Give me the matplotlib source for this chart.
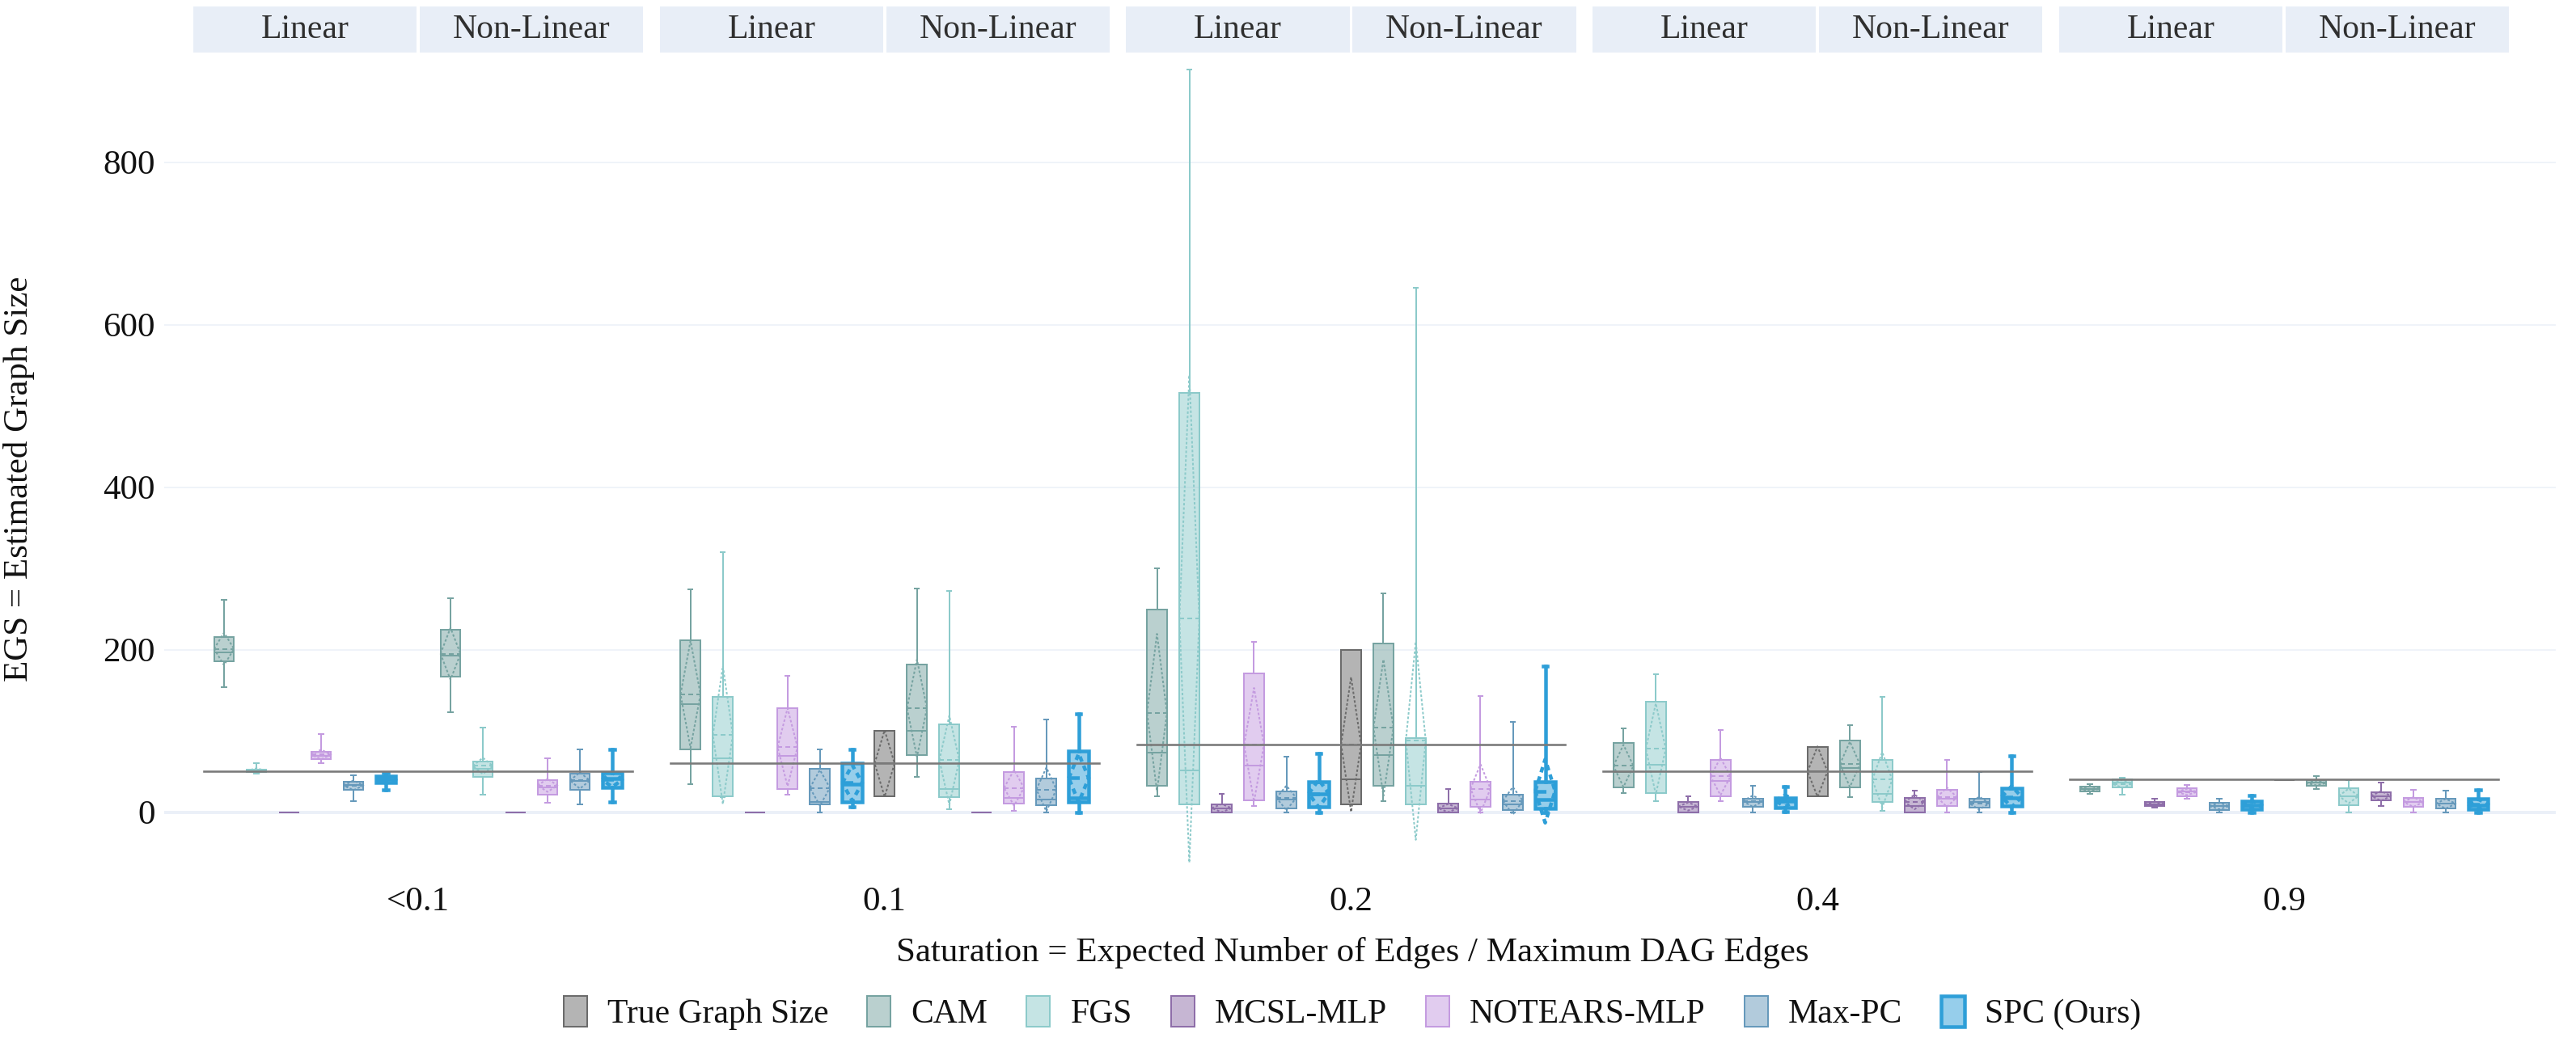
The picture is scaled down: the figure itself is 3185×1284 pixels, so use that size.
import matplotlib
matplotlib.use('Agg')
import matplotlib.pyplot as plt
from matplotlib.patches import Rectangle, Patch
from matplotlib.transforms import blended_transform_factory
from matplotlib.colors import to_rgba

plt.rcParams['font.family'] = ['Liberation Serif', 'DejaVu Serif']

# ---------------- data ----------------
SATURATION = ['<0.1', '0.1', '0.2', '0.4', '0.9']
LINEARITY = ['Linear', 'Non-Linear']
METHODS = ['True Graph Size', 'CAM', 'FGS', 'MCSL-MLP', 'NOTEARS-MLP', 'Max-PC', 'SPC (Ours)']
LINE_COLORS = ['#6b6b6b', '#76a3a1', '#8ccaca', '#8e6ea9', '#c49be0', '#6699bb', '#2e9fd8']
LINE_WIDTHS = [2, 2, 2, 2, 2, 2, 4.5]   # pixels

TRUE_MEAN = [50, 60, 83.3, 50, 40]

# each entry: [low whisker, q1, median, q3, high whisker, mean, sd]; None = no box
TRUE_LIN = [None, None, None, None, None]
TRUE_NL = [None,
           [20, 20, 60, 100, 100, 60, 41],
           [10, 10, 40, 200, 200, 83.3, 83],
           [20, 20, 50, 80, 80, 50, 31],
           [39.5, 39.5, 39.5, 39.5, 39.5, 39.5, 0]]

CAM_LIN = [[154, 186, 197, 216, 261, 201, 20],
           [35, 77, 133, 212, 274, 145, 66],
           [19.5, 32.6, 73.6, 249.5, 300, 122.5, 97],
           [23.5, 31, 49.6, 85, 103, 57, 26],
           [22.5, 26, 29, 32, 35, 29, 3]]
CAM_NL = [[123, 167, 193, 225, 263, 195, 32],
          [43, 70, 100, 182, 275, 128, 60],
          [14, 32.6, 70, 208, 269, 104, 84],
          [18.5, 31, 54, 88, 107.5, 59, 28],
          [28.5, 32.4, 36, 39, 44, 36, 3]]

FGS_LIN = [[47, 49, 50, 52, 60, 51, 3],
           [19, 20, 66, 142, 320, 95, 85],
           [10, 10, 51, 516, 914, 238, 300],
           [13.6, 24, 58, 136, 170, 78, 56],
           [22, 31, 36, 40, 42, 35, 5]]
FGS_NL = [[22, 43, 53, 62, 104, 57, 10],
          [4, 18.5, 29, 108, 272, 64, 55],
          [10, 10, 32.6, 91, 645, 88, 122],
          [1.6, 13, 22.5, 64, 142, 40, 34],
          [0, 9, 20, 30, 39, 20, 9]]

MCSL_LIN = [[0, 0, 0, 0, 0, 0, 0],
            [0, 0, 0, 0, 0, 0, 0],
            [0, 0, 5, 10, 23, 5, 5],
            [0, 0, 6.6, 13, 20, 7, 5],
            [6, 7.6, 10, 12.6, 17, 10, 2.5]]
MCSL_NL = [[0, 0, 0, 0, 0, 0, 0],
           [0, 0, 0, 0, 0, 0, 0],
           [0, 0, 5, 11, 29, 5, 5],
           [0, 0, 8, 18, 27, 12.6, 9],
           [8, 15, 20, 25, 36, 20, 6]]

NOTEARS_LIN = [[60, 65, 69, 74, 96, 71, 6],
               [22, 29, 69, 128, 168, 80, 48],
               [8, 15, 57, 171, 210, 83, 70],
               [13.6, 20, 38, 64.5, 101, 44, 23],
               [17, 20, 26, 29.5, 34, 25, 4]]
NOTEARS_NL = [[12, 22, 31, 39, 66, 33, 8],
              [2, 11, 17.5, 49, 105, 30, 22],
              [0, 6.5, 16, 37, 143, 29, 30],
              [0, 7.6, 16.5, 28, 64, 18.5, 12],
              [0, 7, 12.6, 17.5, 28, 12.6, 6]]

MAXPC_LIN = [[14, 28, 34, 37.5, 45, 33, 6],
             [0, 10, 13, 53, 77, 30, 22],
             [0, 5, 16, 26, 68, 17.6, 15],
             [0, 7, 12.6, 16.5, 33, 13.6, 7],
             [0, 2.6, 8, 12, 17, 7.6, 4]]
MAXPC_NL = [[10, 28, 38, 47, 77, 39, 10],
            [0, 9, 16, 41, 114, 28, 27],
            [0, 3, 10, 21.5, 111, 14, 17],
            [0, 5.6, 12.6, 17, 49, 11, 8],
            [0, 4.3, 11, 16.5, 27, 10.5, 6]]

SPC_LIN = [[28, 36, 40, 44, 48, 40, 4],
           [7, 13, 35, 60, 77, 36, 22],
           [0, 6.5, 23, 37, 72, 23, 17],
           [1, 6, 14, 18, 32, 14, 7],
           [0, 3.6, 8.6, 14, 20.5, 9, 5]]
SPC_NL = [[13, 31, 41, 48, 77, 40, 9],
          [0, 12.6, 17.5, 75, 121, 42, 30],
          [0, 5, 16, 37, 180, 26, 39],
          [0, 7.6, 18, 30, 69, 19, 13],
          [0, 3.6, 9, 16.5, 27.5, 10, 6]]

STATS = [[TRUE_LIN, TRUE_NL], [CAM_LIN, CAM_NL], [FGS_LIN, FGS_NL], [MCSL_LIN, MCSL_NL],
         [NOTEARS_LIN, NOTEARS_NL], [MAXPC_LIN, MAXPC_NL], [SPC_LIN, SPC_NL]]

# ---------------- layout ----------------
W, H = 3185, 1284
DPI = 100
PX = 72.0 / DPI          # points per pixel
AX_L, AX_R, AX_T, AX_B = 203, 3160, 65, 1070
GROUP0_PX, CAT_PX, GROUP_PITCH_PX = 517, 280, 576.75
P = GROUP_PITCH_PX / CAT_PX
BOX_W = 0.088
FS = 31
TXT = '#111111'
GRID = '#ebf0f8'

fig = plt.figure(figsize=(W / DPI, H / DPI), dpi=DPI)
ax = fig.add_axes([AX_L / W, 1 - AX_B / H, (AX_R - AX_L) / W, (AX_B - AX_T) / H])
ax.set_xlim((AX_L - GROUP0_PX) / CAT_PX, (AX_R - GROUP0_PX) / CAT_PX)
ax.set_ylim(-65, 935)
for s in ax.spines.values():
    s.set_visible(False)
ax.set_yticks([0, 200, 400, 600, 800])
ax.yaxis.grid(True, color=GRID, lw=1.5 * PX)
ax.axhline(0, color=GRID, lw=4 * PX, zorder=0.6)
ax.set_axisbelow(True)
ax.set_xticks([k * P for k in range(len(SATURATION))])
ax.set_xticklabels(SATURATION)
ax.tick_params(axis='both', length=0, labelsize=FS, colors=TXT)
ax.tick_params(axis='x', pad=19)
ax.tick_params(axis='y', pad=8)


def draw_box(x, st, color, lw):
    low, q1, med, q3, high, mean, sd = st
    fill = to_rgba(color, 0.5)
    stats = [dict(whislo=low, q1=q1, med=med, q3=q3, whishi=high, fliers=[])]
    ax.bxp(stats, positions=[x], widths=BOX_W, capwidths=BOX_W * 0.22,
           patch_artist=True, showfliers=False, manage_ticks=False,
           boxprops=dict(facecolor=fill, edgecolor=color, linewidth=lw),
           medianprops=dict(color=color, linewidth=lw),
           whiskerprops=dict(color=color, linewidth=lw),
           capprops=dict(color=color, linewidth=lw), zorder=2)
    h = BOX_W / 2
    ax.plot([x - h, x + h], [mean, mean], color=color, lw=lw, ls=(0, (3, 2)), zorder=2.1)
    ax.plot([x - h, x, x + h, x, x - h], [mean, mean + sd, mean, mean - sd, mean],
            color=color, lw=lw, ls=(0, (1.5, 1.2)), zorder=2.1)


for k in range(len(SATURATION)):
    gx = k * P
    for c in range(2):
        for j in range(len(METHODS)):
            st = STATS[j][c][k]
            if st is None:
                continue
            x = gx - 1 + (7 * c + j) / 7.0
            draw_box(x, st, LINE_COLORS[j], LINE_WIDTHS[j] * PX)
    ax.plot([gx - 0.946, gx + 0.946], [TRUE_MEAN[k], TRUE_MEAN[k]],
            color='#7a7a7a', lw=2.6 * PX, zorder=3)

# facet headers
tr = blended_transform_factory(ax.transData, fig.transFigure)
for k in range(len(SATURATION)):
    gx = k * P
    for c, lab in enumerate(LINEARITY):
        x0 = gx - 1 + c + 0.007
        ax.add_patch(Rectangle((x0, 1 - 65 / H), 0.986, 57 / H, transform=tr,
                               facecolor='#e8eef7', edgecolor='none', clip_on=False))
        ax.text(x0 + 0.493, 1 - 37 / H, lab, transform=tr, ha='center', va='center',
                fontsize=30, color='#2f2f2f', clip_on=False)

fig.text(24 / W, 1 - 592 / H, 'EGS = Estimated Graph Size', rotation=90,
         ha='center', va='center', fontsize=FS, color=TXT)
fig.text(1672 / W, 1 - 1178 / H, 'Saturation = Expected Number of Edges / Maximum DAG Edges',
         ha='center', va='center', fontsize=FS, color=TXT)

handles = [Patch(facecolor=to_rgba(c, 0.5), edgecolor=c, linewidth=lw * PX)
           for c, lw in zip(LINE_COLORS, LINE_WIDTHS)]
fig.legend(handles, METHODS, loc='center', bbox_to_anchor=(1672 / W, 1 - 1253 / H),
           ncol=7, frameon=False, fontsize=30, handlelength=0.7, handleheight=1.05,
           columnspacing=1.15, handletextpad=0.6, labelcolor=TXT)

fig.savefig('out.png', dpi=DPI)
